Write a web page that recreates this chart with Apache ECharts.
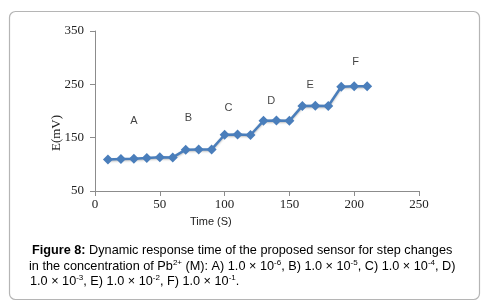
<!DOCTYPE html>
<html>
<head>
<meta charset="utf-8">
<script src="https://cdn.jsdelivr.net/npm/echarts@6/dist/echarts.min.js"></script>
<style>
html, body { margin: 0; padding: 0; background: #fff; }
#chart-box { width: 486px; height: 306px; }
</style>
</head>
<body>
<div id="chart-box"></div>
<script>
// time (s) and potential (mV)
var timeData = [10, 20, 30, 40, 50, 60, 70, 80, 90, 100, 110, 120, 130, 140, 150, 160, 170, 180, 190, 200, 210];
var emfData = [109, 110, 110.5, 112, 113.5, 113, 127.5, 128, 128, 155.5, 156, 155, 181.5, 182, 181.5, 209.5, 210, 209.5, 245.5, 246.5, 246.5];
// concentration step labels
var stepNames = ['A', 'B', 'C', 'D', 'E', 'F'];
var stepX = [30, 72, 103, 136, 166, 201];
var stepY = [181, 187, 205, 218, 249, 292];
var xTicks = { min: 0, max: 250, interval: 50 };
var yTicks = { min: 50, max: 350, interval: 100 };

var lineData = timeData.map(function (t, i) { return [t, emfData[i]]; });
var stepData = stepNames.map(function (n, i) { return { value: [stepX[i], stepY[i]], name: n }; });

var capFont = '"Liberation Sans", Arial, sans-serif';
var capRich = {
    b: { fontFamily: capFont, fontSize: 12.7, fontWeight: 'bold', color: '#111' },
    n: { fontFamily: capFont, fontSize: 12.7, color: '#111' },
    s: { fontFamily: capFont, fontSize: 8, color: '#111', verticalAlign: 'top', padding: [0, 0, 6, 0] }
};

var option = {
    animation: false,
    grid: { left: 95, right: 67, top: 31, bottom: 115 },
    xAxis: {
        type: 'value',
        min: xTicks.min, max: xTicks.max, interval: xTicks.interval,
        splitLine: { show: false },
        axisLine: { lineStyle: { color: '#8c8c8c', width: 1 } },
        axisTick: { show: true, length: 5, lineStyle: { color: '#8c8c8c' } },
        axisLabel: { color: '#222', fontFamily: '"Liberation Serif", serif', fontSize: 13, margin: 7 }
    },
    yAxis: {
        type: 'value',
        min: yTicks.min, max: yTicks.max, interval: yTicks.interval,
        splitLine: { show: false },
        axisLine: { show: true, lineStyle: { color: '#8c8c8c', width: 1 } },
        axisTick: { show: true, length: 5, lineStyle: { color: '#8c8c8c' } },
        axisLabel: { color: '#222', fontFamily: '"Liberation Serif", serif', fontSize: 13, margin: 11 }
    },
    series: [{
        type: 'line',
        data: lineData,
        symbol: 'diamond',
        symbolSize: 10,
        lineStyle: { color: '#4a7ebb', width: 2.5, shadowColor: 'rgba(0,0,0,0.25)', shadowBlur: 2, shadowOffsetY: 1 },
        itemStyle: { color: '#4a7ebb' }
    }, {
        type: 'scatter',
        data: stepData,
        symbolSize: 0,
        label: {
            show: true,
            position: 'inside',
            formatter: '{b}',
            color: '#111',
            fontFamily: capFont,
            fontSize: 11
        }
    }],
    graphic: [{
        type: 'rect',
        left: 7, top: 9,
        shape: { width: 470, height: 288, r: 6 },
        style: { fill: 'none', stroke: '#b5b5b5', lineWidth: 1.2 },
        z: -1
    }, {
        type: 'text',
        left: 190, top: 216,
        style: { text: 'Time (S)', fill: '#222', font: '11px "Liberation Sans", Arial, sans-serif' }
    }, {
        type: 'text',
        x: 57, y: 133,
        rotation: Math.PI / 2,
        style: { text: 'E(mV)', fill: '#222', font: '13px "Liberation Serif", serif', align: 'center', verticalAlign: 'middle' }
    }, {
        type: 'text',
        left: 32, top: 244,
        style: {
            text: '{b|Figure 8:}{n| Dynamic response time of the proposed sensor for step changes}',
            rich: capRich
        }
    }, {
        type: 'text',
        left: 29, top: 259,
        style: {
            text: '{n|in the concentration of Pb}{s|2+}{n| (M): A) 1.0 × 10}{s|-6}{n|, B) 1.0 × 10}{s|-5}{n|, C) 1.0 × 10}{s|-4}{n|, D)}',
            rich: capRich
        }
    }, {
        type: 'text',
        left: 30, top: 274,
        style: {
            text: '{n|1.0 × 10}{s|-3}{n|, E) 1.0 × 10}{s|-2}{n|, F) 1.0 × 10}{s|-1}{n|.}',
            rich: capRich
        }
    }]
};

var myChart = echarts.init(document.getElementById('chart-box'));
myChart.setOption(option);
</script>
</body>
</html>
